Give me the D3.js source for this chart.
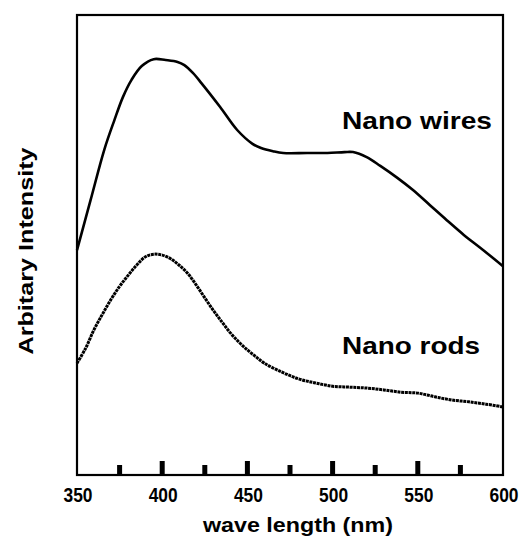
<!DOCTYPE html>
<html>
<head>
<meta charset="utf-8">
<script src="https://cdn.jsdelivr.net/npm/d3@7"></script>
<style>
  body { margin: 0; background: #fff; }
  text { font-family: "Liberation Sans", Arial, sans-serif; font-weight: bold; fill: #000; }
</style>
</head>
<body>
<svg id="chart" width="522" height="541"></svg>
<script>
// wavelength (nm) and arbitrary intensity
var wiresNm  = [350,358,366,372,377,382,388,395,402,409,413,418,423,434,444,453,458,465,471,485,497,507,512,520,528,538,547,557,567,577,587,600];
var wiresVal = [48.9,59.8,70.7,77.2,82.2,85.9,88.9,90.4,90.2,89.8,89.1,87.4,85.2,80.0,75.0,72.0,71.1,70.4,70.0,70.0,70.0,70.2,70.2,69.1,67.2,64.6,62.0,58.7,55.4,52.2,49.3,45.4];

var rodsNm  = [350,355,360,365,370,375,380,385,390,395,400,405,410,415,420,425,430,435,440,445,450,455,460,470,480,490,500,510,520,530,540,550,560,570,580,590,600];
var rodsVal = [24.3,27.5,31.6,35.0,38.2,41.0,43.4,45.6,47.4,48.0,47.8,47.0,45.6,43.8,41.3,38.5,35.8,33.3,30.9,28.9,27.2,25.7,24.3,22.4,20.9,20.0,19.3,19.1,18.9,18.5,18.0,17.8,17.0,16.3,15.9,15.4,14.8];

var majorTicks = [350,400,450,500,550,600];
var minorTicks = [375,425,475,525,575];
var seriesLabels = ["Nano wires", "Nano rods"];

var svg = d3.select("#chart");
var plotL = 77, plotR = 503, plotT = 15, plotB = 475;

var x = d3.scaleLinear().domain([350, 600]).range([plotL, plotR]);
var y = d3.scaleLinear().domain([0, 100]).range([plotB, plotT]);

// frame
svg.append("rect")
  .attr("x", plotL).attr("y", plotT)
  .attr("width", plotR - plotL).attr("height", plotB - plotT)
  .attr("fill", "none").attr("stroke", "#000").attr("stroke-width", 2.2);

// inward ticks on bottom edge
svg.selectAll("rect.major").data(majorTicks.slice(1, -1)).enter().append("rect")
  .attr("class", "major")
  .attr("x", function(d) { return x(d) - 2.5; })
  .attr("y", plotB - 14).attr("width", 5).attr("height", 14).attr("fill", "#000");
svg.selectAll("rect.minor").data(minorTicks).enter().append("rect")
  .attr("class", "minor")
  .attr("x", function(d) { return x(d) - 2.5; })
  .attr("y", plotB - 10).attr("width", 5).attr("height", 10).attr("fill", "#000");

svg.selectAll("text.tick").data(majorTicks).enter().append("text")
  .attr("class", "tick")
  .attr("x", function(d) { return x(d) + 1; })
  .attr("y", 502)
  .attr("text-anchor", "middle")
  .attr("font-size", 20)
  .attr("textLength", 29).attr("lengthAdjust", "spacingAndGlyphs")
  .text(function(d) { return d; });

// axis titles
svg.append("text")
  .attr("x", 298).attr("y", 532)
  .attr("text-anchor", "middle")
  .attr("font-size", 21)
  .attr("textLength", 190).attr("lengthAdjust", "spacingAndGlyphs")
  .text("wave length (nm)");

svg.append("text")
  .attr("transform", "translate(33,251) rotate(-90)")
  .attr("text-anchor", "middle")
  .attr("font-size", 21)
  .attr("textLength", 207).attr("lengthAdjust", "spacingAndGlyphs")
  .text("Arbitary Intensity");

// curves
var line = d3.line()
  .x(function(d) { return x(d[0]); })
  .y(function(d) { return y(d[1]); })
  .curve(d3.curveCatmullRom);

svg.append("path")
  .datum(d3.zip(wiresNm, wiresVal))
  .attr("d", line)
  .attr("fill", "none").attr("stroke", "#000").attr("stroke-width", 2.6)
  .attr("stroke-linejoin", "round");

svg.append("path")
  .datum(d3.zip(rodsNm, rodsVal))
  .attr("d", line)
  .attr("fill", "none").attr("stroke", "#000").attr("stroke-width", 3)
  .attr("stroke-dasharray", "3,0.7");

// series labels
svg.append("text")
  .attr("x", 342).attr("y", 129)
  .attr("font-size", 24)
  .attr("textLength", 150).attr("lengthAdjust", "spacingAndGlyphs")
  .text(seriesLabels[0]);

svg.append("text")
  .attr("x", 342).attr("y", 354)
  .attr("font-size", 24)
  .attr("textLength", 138).attr("lengthAdjust", "spacingAndGlyphs")
  .text(seriesLabels[1]);
</script>
</body>
</html>
